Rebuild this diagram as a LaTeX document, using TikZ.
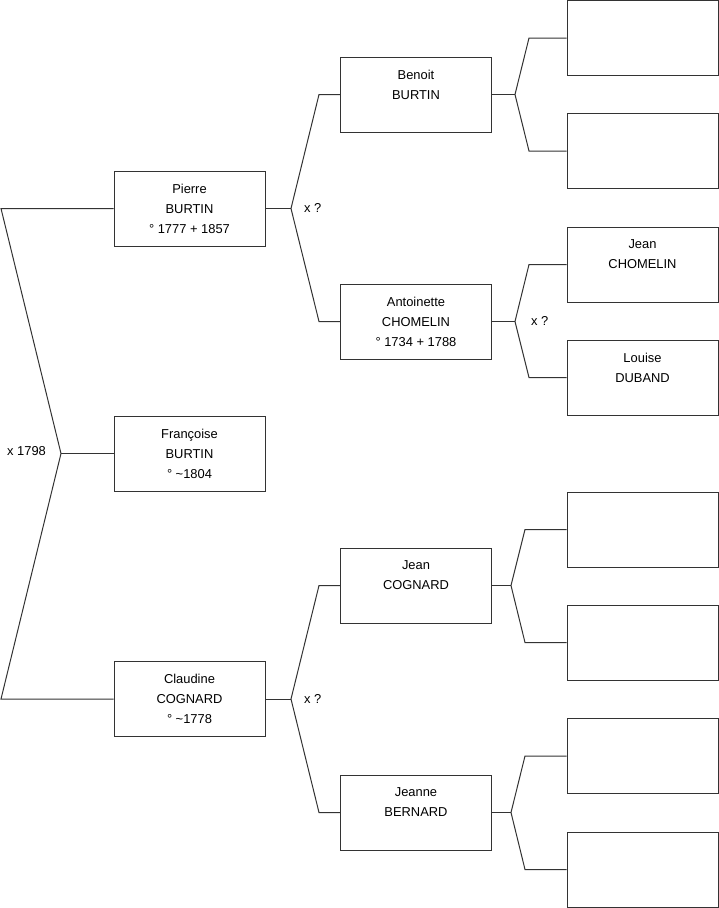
\documentclass[tikz,border=0pt]{standalone}
\usepackage{fontspec}
\setmainfont{Liberation Sans}
\begin{document}
\begin{tikzpicture}[x=1pt,y=-1pt,
  person/.style={draw=black!80,line width=1pt,rectangle,inner sep=0pt,
    minimum width=151pt,minimum height=75pt,align=center,
    font=\fontsize{12.9}{20}\selectfont},
  link/.style={draw=black!80,line width=1pt},
  marr/.style={anchor=west,inner sep=0pt,font=\fontsize{12.9}{14}\selectfont}]
\useasboundingbox (0,0) rectangle (719,908);
% generation 1
\node[person] (pierre) at (189.5,208.5) {Pierre\\BURTIN\\° 1777 + 1857};
\node[person] (francoise) at (189.5,453.5) {Françoise\\BURTIN\\° \textasciitilde1804};
\node[person] (claudine) at (189.5,699) {Claudine\\COGNARD\\° \textasciitilde1778};
% generation 2
\node[person] (benoit) at (416,94.5) {Benoit\\BURTIN\\\phantom{0}};
\node[person] (antoinette) at (416,321.5) {Antoinette\\CHOMELIN\\° 1734 + 1788};
\node[person] (jeanc) at (416,585.5) {Jean\\COGNARD\\\phantom{0}};
\node[person] (jeanne) at (416,812.5) {Jeanne\\BERNARD\\\phantom{0}};
% generation 3
\node[person] (g1) at (642.5,38) {};
\node[person] (g2) at (642.5,151) {};
\node[person] (jeanch) at (642.5,264.5) {Jean\\CHOMELIN\\\phantom{0}};
\node[person] (louise) at (642.5,377.5) {Louise\\DUBAND\\\phantom{0}};
\node[person] (g5) at (642.5,529.5) {};
\node[person] (g6) at (642.5,642.5) {};
\node[person] (g7) at (642.5,756) {};
\node[person] (g8) at (642.5,869.5) {};
% marriage labels
\node[marr] (m0) at (7,451.5) {x 1798};
\node[marr] (m1) at (304,207.5) {x ?};
\node[marr] (m2) at (304,698.5) {x ?};
\node[marr] (m3) at (531,320.5) {x ?};
% bracket coordinates
\coordinate (v0) at (61,453.5);
\coordinate (a0) at (1,208.5);
\coordinate (b0) at (1,699);
\coordinate (vp) at (291,208.5);
\coordinate (vp1) at (319,94.5);
\coordinate (vp2) at (319,321.5);
\coordinate (vc) at (291,699);
\coordinate (vc1) at (319,585.5);
\coordinate (vc2) at (319,812.5);
\coordinate (vb) at (515,94.5);
\coordinate (vb1) at (529,38);
\coordinate (vb2) at (529,151);
\coordinate (va) at (515,321.5);
\coordinate (va1) at (529,264.5);
\coordinate (va2) at (529,377.5);
\coordinate (vj) at (511,585.5);
\coordinate (vj1) at (525,529.5);
\coordinate (vj2) at (525,642.5);
\coordinate (vn) at (511,812.5);
\coordinate (vn1) at (525,756);
\coordinate (vn2) at (525,869.5);
% connectors
\draw[link] (pierre.west) -- (a0) -- (v0) -- (b0) -- (claudine.west);
\draw[link] (v0) -- (francoise.west);
\draw[link] (benoit.west) -- (vp1) -- (vp) -- (vp2) -- (antoinette.west);
\draw[link] (vp) -- (pierre.east);
\draw[link] (jeanc.west) -- (vc1) -- (vc) -- (vc2) -- (jeanne.west);
\draw[link] (vc) -- (claudine.east);
\draw[link] (g1.west) -- (vb1) -- (vb) -- (vb2) -- (g2.west);
\draw[link] (vb) -- (benoit.east);
\draw[link] (jeanch.west) -- (va1) -- (va) -- (va2) -- (louise.west);
\draw[link] (va) -- (antoinette.east);
\draw[link] (g5.west) -- (vj1) -- (vj) -- (vj2) -- (g6.west);
\draw[link] (vj) -- (jeanc.east);
\draw[link] (g7.west) -- (vn1) -- (vn) -- (vn2) -- (g8.west);
\draw[link] (vn) -- (jeanne.east);
\end{tikzpicture}
\end{document}
